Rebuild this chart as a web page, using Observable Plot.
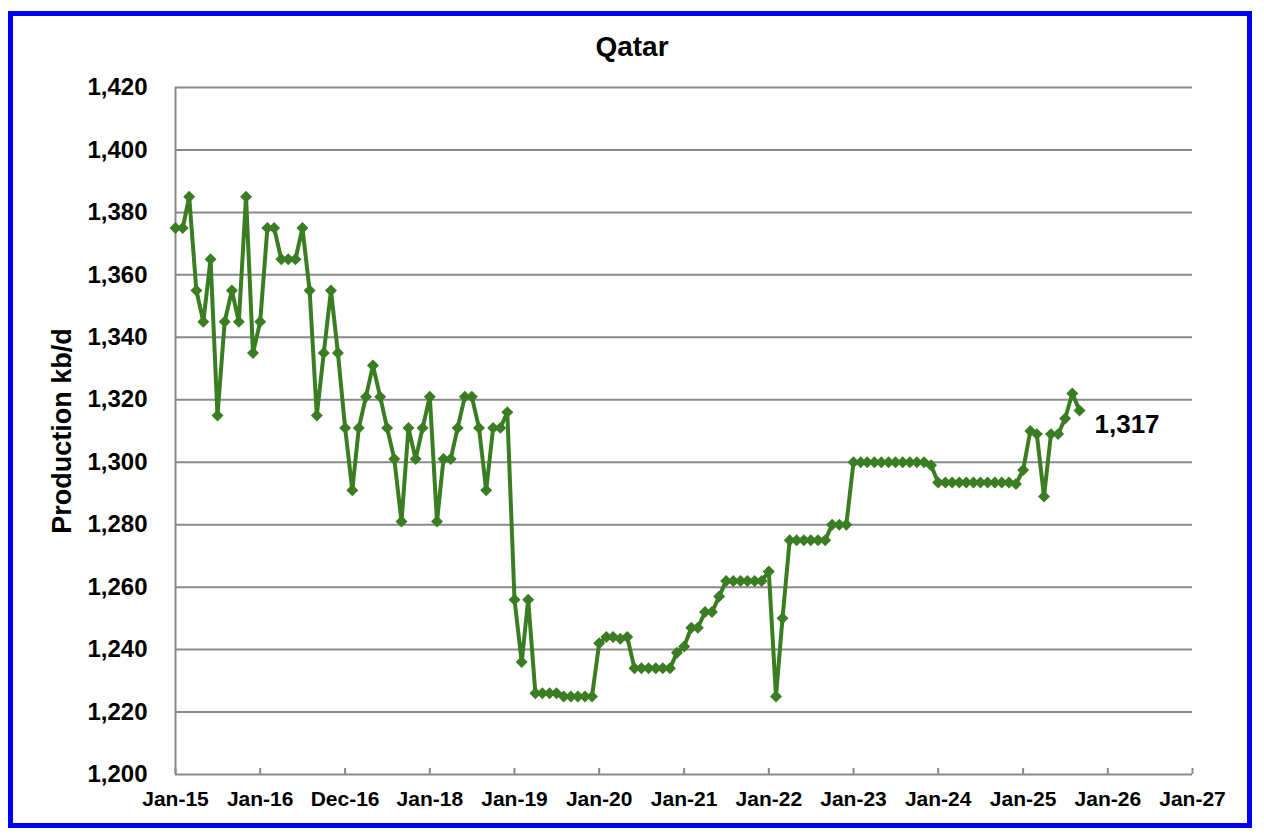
<!DOCTYPE html>
<html>
<head>
<meta charset="utf-8">
<script src="https://cdn.jsdelivr.net/npm/d3@7"></script>
<script src="https://cdn.jsdelivr.net/npm/@observablehq/plot@0.6"></script>
<style>
  html, body { margin: 0; padding: 0; background: #fff; }
  #wrap { position: relative; width: 1264px; height: 840px; overflow: hidden; }
  #border { position: absolute; left: 8px; top: 11px; width: 1244px; height: 817px;
            box-sizing: border-box; border: 5px solid #0000F0; pointer-events: none; }
</style>
</head>
<body>
<div id="wrap"><div id="border"></div></div>
<script>
// ---- Data (monthly production, kb/d) ----
const chartTitle = "Qatar";
const yAxisLabel = "Production kb/d";
const startYear = 2015;
const prod2015 = [1375,1375,1385,1355,1345,1365,1315,1345,1355,1345,1385,1335];
const prod2016 = [1345,1375,1375,1365,1365,1365,1375,1355,1315,1335,1355,1335];
const prod2017 = [1311,1291,1311,1321,1331,1321,1311,1301,1281,1311,1301,1311];
const prod2018 = [1321,1281,1301,1301,1311,1321,1321,1311,1291,1311,1311,1316];
const prod2019 = [1256,1236,1256,1226,1226,1226,1226,1225,1225,1225,1225,1225];
const prod2020 = [1242,1244,1244,1243.5,1244,1234,1234,1234,1234,1234,1234,1239];
const prod2021 = [1241,1247,1247,1252,1252,1257,1262,1262,1262,1262,1262,1262];
const prod2022 = [1265,1225,1250,1275,1275,1275,1275,1275,1275,1280,1280,1280];
const prod2023 = [1300,1300,1300,1300,1300,1300,1300,1300,1300,1300,1300,1299];
const prod2024 = [1293.5,1293.5,1293.5,1293.5,1293.5,1293.5,1293.5,1293.5,1293.5,1293.5,1293.5,1293];
const prod2025 = [1297.5,1310,1309,1289,1309,1309,1314,1322,1316.6];

const xTickYears = [2015,2016,2017,2018,2019,2020,2021,2022,2023,2024,2025,2026,2027];
const xTickLabels = ["Jan-15","Jan-16","Dec-16","Jan-18","Jan-19","Jan-20","Jan-21","Jan-22","Jan-23","Jan-24","Jan-25","Jan-26","Jan-27"];
const yTicks = [1200,1220,1240,1260,1280,1300,1320,1340,1360,1380,1400,1420];

// ---- Build table ----
const series = [prod2015,prod2016,prod2017,prod2018,prod2019,prod2020,prod2021,prod2022,prod2023,prod2024,prod2025];
const data = series.flatMap((arr, yi) => arr.map((v, m) => ({date: new Date(Date.UTC(startYear + yi, m, 1)), value: v})));
const last = data[data.length - 1];
const xTicks = xTickYears.map(y => new Date(Date.UTC(y, 0, 1)));
const labelFor = new Map(xTicks.map((d, i) => [+d, xTickLabels[i]]));
const fmt = d3.format(",.0f");

const green = "#3a7d22";
const grid = "#8a8a8a";
const font = "'Liberation Sans', Arial, sans-serif";

const chart = Plot.plot({
  width: 1264,
  height: 840,
  marginLeft: 175,
  marginRight: 72,
  marginTop: 87,
  marginBottom: 66,
  style: {fontFamily: font, fontWeight: "bold", color: "#000", background: "transparent"},
  x: {type: "utc", domain: [xTicks[0], xTicks[xTicks.length - 1]]},
  y: {domain: [1200, 1420]},
  marks: [
    Plot.ruleY(yTicks, {stroke: grid, strokeWidth: 2}),
    Plot.ruleX([xTicks[0]], {stroke: grid, strokeWidth: 2}),
    Plot.axisX(xTicks, {tickSize: -6, tickFormat: () => "", stroke: grid, strokeWidth: 2}),
    Plot.axisX(xTicks, {tickSize: 0, tickPadding: 17, tickFormat: d => labelFor.get(+d), fontSize: 21, fontWeight: "bold", label: null}),
    Plot.axisY(yTicks, {tickSize: 0, tickPadding: 28, tickFormat: fmt, fontSize: 24, fontWeight: "bold", label: null}),
    Plot.text([yAxisLabel], {frameAnchor: "left", textAnchor: "middle", lineAnchor: "middle", rotate: -90, dx: -113, fontSize: 27, fontWeight: "bold"}),
    Plot.text([chartTitle], {frameAnchor: "top", lineAnchor: "middle", dx: -52, dy: -40, fontSize: 28, fontWeight: "bold"}),
    Plot.line(data, {x: "date", y: "value", stroke: green, strokeWidth: 4}),
    Plot.dot(data, {x: "date", y: "value", symbol: "diamond2", r: 5.4, fill: green, stroke: "none"}),
    Plot.text([last], {x: "date", y: "value", text: d => fmt(d.value), dx: 15, dy: 14, textAnchor: "start", fontSize: 26, fontWeight: "bold"})
  ]
});
document.getElementById("wrap").prepend(chart);
</script>
</body>
</html>
